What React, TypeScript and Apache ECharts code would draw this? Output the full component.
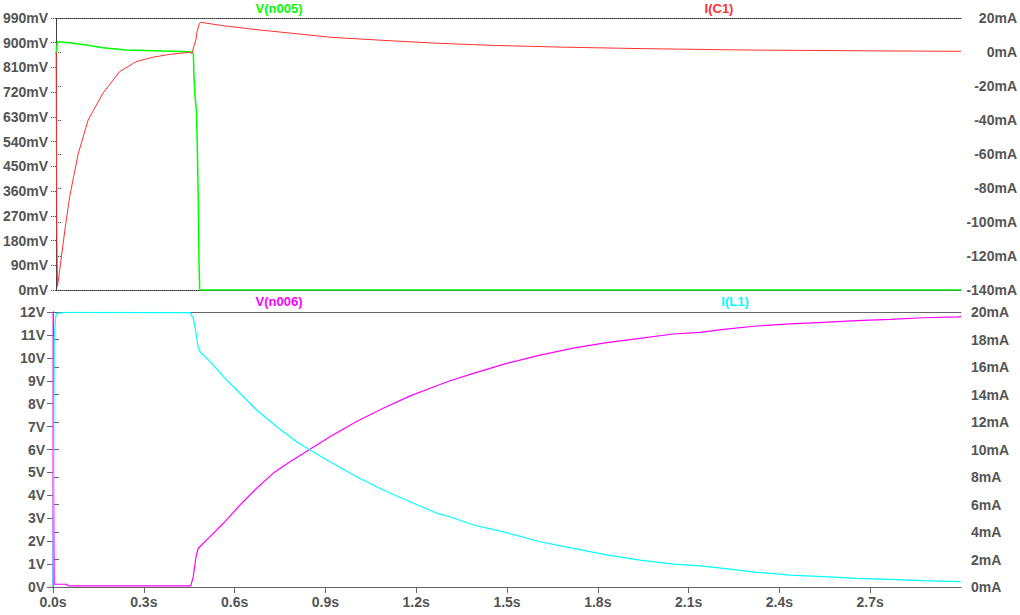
import React, { useEffect, useRef } from "react";
import * as echarts from "echarts";

// ---- tick settings ----
const timeMin = 0;
const timeMax = 3.0;
const timeStep = 0.3;

// ---- V(n005) in mV (top plot, left axis) ----
const vn005Time = [0, 0.004, 0.045, 0.1, 0.155, 0.232, 0.354, 0.442, 0.453, 0.455, 0.457, 0.46, 0.465, 0.468, 0.4715, 0.4735, 0.476, 3.0];
const vn005Val = [860, 904, 900, 892, 882, 873.5, 870, 867, 864, 860, 776, 710, 655, 522, 309, 103, 0, 0];

// ---- I(C1) in mA (top plot, right axis) ----
const ic1Time = [0, 0.002, 0.0043, 0.012, 0.029, 0.045, 0.056, 0.073, 0.106, 0.155, 0.21, 0.265, 0.32, 0.376, 0.442, 0.45, 0.458, 0.4635, 0.467, 0.475, 0.478, 0.552, 0.667, 0.783, 0.915, 1.08, 1.246, 1.444, 1.692, 1.939, 2.27, 2.765, 3.0];
const ic1Val = [0, -100, -138, -128, -104.7, -85, -75, -60, -40, -24.3, -11.6, -5.7, -3.1, -1.4, -0.2, -0.8, 4.1, 7.1, 11.9, 16.9, 17.5, 15.5, 13.1, 11.0, 8.6, 6.9, 5.3, 3.9, 2.8, 2.0, 1.2, 0.6, 0.4];

// ---- V(n006) in V (bottom plot, left axis) ----
const vn006Time = [0, 0.0005, 0.002, 0.004, 0.045, 0.05, 0.455, 0.4635, 0.4725, 0.48, 0.519, 0.563, 0.618, 0.673, 0.728, 0.783, 0.849, 0.915, 1.003, 1.091, 1.18, 1.268, 1.312, 1.389, 1.499, 1.609, 1.719, 1.829, 1.939, 2.049, 2.138, 2.215, 2.325, 2.435, 2.545, 2.655, 2.765, 2.875, 2.991, 3.0];
const vn006Val = [0, 12, 4.3, 0.12, 0.12, 0.05, 0.05, 0.45, 1.32, 1.69, 2.2, 2.78, 3.58, 4.31, 4.97, 5.47, 6.01, 6.56, 7.22, 7.8, 8.34, 8.78, 9.0, 9.32, 9.76, 10.12, 10.42, 10.66, 10.85, 11.04, 11.11, 11.24, 11.39, 11.48, 11.55, 11.62, 11.68, 11.75, 11.79, 11.8];

// ---- I(L1) in mA (bottom plot, right axis) ----
const il1Time = [0, 0.004, 0.009, 0.012, 0.05, 0.453, 0.4635, 0.469, 0.475, 0.48, 0.486, 0.519, 0.574, 0.618, 0.673, 0.739, 0.805, 0.849, 0.915, 1.003, 1.091, 1.18, 1.268, 1.312, 1.389, 1.499, 1.609, 1.719, 1.829, 1.939, 2.049, 2.138, 2.215, 2.325, 2.435, 2.545, 2.655, 2.765, 2.875, 2.991, 3.0];
const il1Val = [0, 18.1, 19.66, 19.9, 19.98, 19.95, 19.54, 18.93, 18.09, 17.36, 17.11, 16.39, 15.05, 14.09, 12.87, 11.66, 10.57, 9.96, 9.11, 8.02, 7.05, 6.2, 5.36, 5.11, 4.51, 3.95, 3.29, 2.81, 2.33, 1.96, 1.67, 1.53, 1.36, 1.07, 0.87, 0.75, 0.63, 0.56, 0.46, 0.39, 0.38];

const seriesNames = ["V(n005)", "I(C1)", "V(n006)", "I(L1)"];
const seriesColors = ["#00ff00", "#ff3030", "#ff00ff", "#00ffff"];

const zip = (t: number[], v: number[]) => t.map((x, i) => [x, v[i]]);

const FONT = "Liberation Sans";
const LABEL_COLOR = "#555";

export default function App() {
  const ref = useRef<HTMLDivElement>(null);
  useEffect(() => {
    if (!ref.current) return;
    const chart = echarts.init(ref.current, null, { renderer: "svg" });
    const dotted = { color: "#333", width: 1, type: [1, 1] as any };
    const solid = { color: "#666", width: 1 };
    const lbl = { color: LABEL_COLOR, fontFamily: FONT, fontWeight: "bold" as const, fontSize: 14 };

    const xBase = (grid: number, pos: string, line: any, labels: boolean) => ({
      type: "value",
      gridIndex: grid,
      position: pos,
      min: timeMin,
      max: timeMax,
      interval: timeStep,
      axisLine: { show: true, onZero: false, lineStyle: line },
      axisTick: { show: labels, length: 6, lineStyle: line },
      axisLabel: labels
        ? { ...lbl, margin: 8, showMaxLabel: false, formatter: (v: number) => v.toFixed(1) + "s" }
        : { show: false },
      splitLine: { show: false },
    });

    const option: any = {
      animation: false,
      backgroundColor: "#ffffff",
      grid: [
        { left: 53, top: 18, width: 908, height: 272, show: false },
        { left: 53, top: 312, width: 908, height: 275, show: false },
      ],
      xAxis: [
        xBase(0, "bottom", dotted, false),
        xBase(0, "top", dotted, false),
        xBase(1, "bottom", solid, true),
        xBase(1, "top", solid, false),
      ],
      yAxis: [
        {
          type: "value", gridIndex: 0, position: "left", min: 0, max: 990, interval: 90,
          axisLine: { show: true, lineStyle: dotted },
          axisTick: { show: true, length: 6, lineStyle: dotted },
          axisLabel: { ...lbl, margin: 8, formatter: (v: number) => v + "mV" },
          splitLine: { show: false },
        },
        {
          type: "value", gridIndex: 0, position: "right", min: -140, max: 20, interval: 20,
          axisLine: { show: true, lineStyle: dotted },
          axisTick: { show: true, length: 6, lineStyle: dotted },
          axisLabel: { ...lbl, margin: 56, align: "right", formatter: (v: number) => v + "mA" },
          splitLine: { show: false },
        },
        {
          type: "value", gridIndex: 1, position: "left", min: 0, max: 12, interval: 1,
          axisLine: { show: true, lineStyle: solid },
          axisTick: { show: true, length: 6, lineStyle: solid },
          axisLabel: { ...lbl, margin: 8, formatter: (v: number) => v + "V" },
          splitLine: { show: false },
        },
        {
          type: "value", gridIndex: 1, position: "right", min: 0, max: 20, interval: 2,
          axisLine: { show: true, lineStyle: solid },
          axisTick: { show: true, length: 6, lineStyle: solid },
          axisLabel: { ...lbl, margin: 10, align: "left", formatter: (v: number) => v + "mA" },
          splitLine: { show: false },
        },
      ],
      series: [
        { name: seriesNames[0], type: "line", xAxisIndex: 0, yAxisIndex: 0, data: zip(vn005Time, vn005Val), showSymbol: false, lineStyle: { color: seriesColors[0], width: 1.5 }, itemStyle: { color: seriesColors[0] } },
        { name: seriesNames[1], type: "line", xAxisIndex: 0, yAxisIndex: 1, data: zip(ic1Time, ic1Val), showSymbol: false, lineStyle: { color: seriesColors[1], width: 1 }, itemStyle: { color: seriesColors[1] } },
        { name: seriesNames[2], type: "line", xAxisIndex: 2, yAxisIndex: 2, data: zip(vn006Time, vn006Val), showSymbol: false, lineStyle: { color: seriesColors[2], width: 1.2 }, itemStyle: { color: seriesColors[2] } },
        { name: seriesNames[3], type: "line", xAxisIndex: 2, yAxisIndex: 3, data: zip(il1Time, il1Val), showSymbol: false, lineStyle: { color: seriesColors[3], width: 1.2 }, itemStyle: { color: seriesColors[3] } },
      ],
      graphic: [
        { type: "text", x: 279, y: 8, style: { text: seriesNames[0], fill: seriesColors[0], font: `bold 13px "${FONT}"`, textAlign: "center", textVerticalAlign: "middle" } },
        { type: "text", x: 719, y: 8, style: { text: seriesNames[1], fill: seriesColors[1], font: `bold 13px "${FONT}"`, textAlign: "center", textVerticalAlign: "middle" } },
        { type: "text", x: 279, y: 301, style: { text: seriesNames[2], fill: seriesColors[2], font: `bold 13px "${FONT}"`, textAlign: "center", textVerticalAlign: "middle" } },
        { type: "text", x: 735, y: 301, style: { text: seriesNames[3], fill: seriesColors[3], font: `bold 13px "${FONT}"`, textAlign: "center", textVerticalAlign: "middle" } },
      ],
    };
    chart.setOption(option);
    return () => chart.dispose();
  }, []);
  return (
    <div
      ref={ref}
      style={{ position: "fixed", left: 0, top: 0, width: 1020, height: 615, background: "#fff" }}
    />
  );
}
